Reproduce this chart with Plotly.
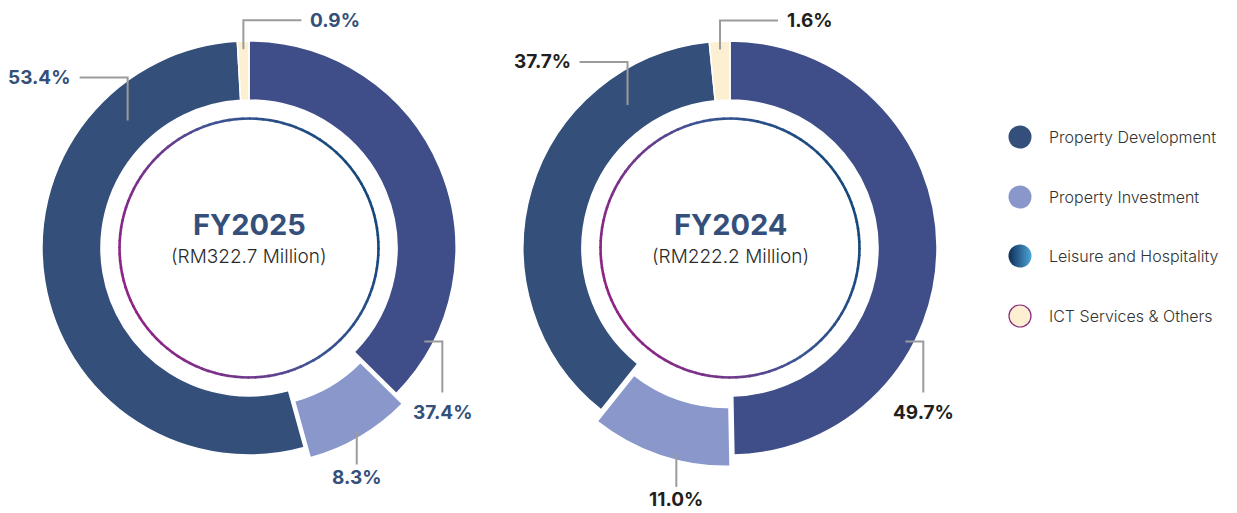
import numpy as np
import plotly.graph_objects as go

# ---------------- data ----------------
segments = ["Leisure and Hospitality", "Property Investment",
            "Property Development", "ICT Services & Others"]
fy2025_share = [37.4, 8.3, 53.4, 0.9]
fy2024_share = [49.7, 11.0, 37.7, 1.6]
years = ["FY2025", "FY2024"]
revenue_text = ["(RM322.7 Million)", "(RM222.2 Million)"]
legend_order = ["Property Development", "Property Investment",
                "Leisure and Hospitality", "ICT Services & Others"]

# ---------------- style ----------------
VIEW_W, VIEW_H = 1237, 513
OX, OY = 8, 8                      # page body margin around the plot div
FIG_W, FIG_H = VIEW_W - OX, VIEW_H - OY
R = 207.0
CY = 248.0
HOLE = 0.715
PULL = [0.0, 0.058, 0.0, 0.0]
seg_colors = {
    "Leisure and Hospitality": "#3f4e89",
    "Property Investment": "#8a97cb",
    "Property Development": "#34507a",
    "ICT Services & Others": "#fdf0d2",
}
FONT = "Inter"
LINE_GREY = "#9b9b9b"

charts = [
    dict(year=years[0], values=fy2025_share, rev=revenue_text[0], cx=249.0,
         label_color="#34507a", fracs=[0.877, 0.5, 0.79, 0.5]),
    dict(year=years[1], values=fy2024_share, rev=revenue_text[1], cx=730.0,
         label_color="#231f20", fracs=[0.66, 0.39, 0.78, 0.5]),
]
# per-slice anchor radius (fraction of R), leader legs, text placement
anchor_rf = [0.96, 0.97, 0.85, 0.96]
legs = [[(18, 0), (0, 51)], [(0, 33)], [(0, -43), (-48, 0)], [(0, -29), (58, 0)]]
text_off = [(0, 20, "center"), (0, 13, "center"), (-7, 0, "right"), (7, 0, "left")]


def hex2rgb(h):
    h = h.lstrip("#")
    return np.array([int(h[i:i + 2], 16) for i in (0, 2, 4)], dtype=float)


def interp(stops, t):
    for (t0, c0), (t1, c1) in zip(stops[:-1], stops[1:]):
        if t <= t1:
            f = 0 if t1 == t0 else (t - t0) / (t1 - t0)
            c = hex2rgb(c0) * (1 - f) + hex2rgb(c1) * f
            return "rgb(%d,%d,%d)" % tuple(np.round(c))
    return stops[-1][1]


ring_stops = [(0.0, "#8e2485"), (0.35, "#6a3c8c"), (0.55, "#3f5596"), (1.0, "#15487c")]

fig = go.Figure()
shapes = []
annotations = []

for ch in charts:
    cx = ch["cx"]
    vals = np.array(ch["values"], dtype=float)
    S = R * (1 + max(PULL))
    fig.add_trace(go.Pie(
        values=vals, labels=segments, sort=False, direction="clockwise",
        rotation=0, hole=HOLE, pull=PULL, textinfo="none",
        hovertemplate="%{label}: %{value}%<extra>" + ch["year"] + "</extra>",
        marker=dict(colors=[seg_colors[s] for s in segments],
                    line=dict(color="white", width=1.5)),
        showlegend=False,
        domain=dict(x=[(cx - OX - S) / FIG_W, (cx - OX + S) / FIG_W],
                    y=[1 - (CY - OY + S) / FIG_H, 1 - (CY - OY - S) / FIG_H]),
    ))

    # leader lines + percentage labels, derived from slice angles
    total = vals.sum()
    starts = np.concatenate([[0], np.cumsum(vals)[:-1]]) / total * 360
    spans = vals / total * 360
    for i in range(len(vals)):
        a = np.radians(starts[i] + ch["fracs"][i] * spans[i])
        mid = np.radians(starts[i] + spans[i] / 2)
        r = R * anchor_rf[i]
        px = cx + r * np.sin(a) + PULL[i] * R * np.sin(mid)
        py = CY - r * np.cos(a) - PULL[i] * R * np.cos(mid)
        path = "M %.2f %.2f" % (px, py)
        for dx, dy in legs[i]:
            px += dx
            py += dy
            path += " L %.2f %.2f" % (px, py)
        shapes.append(dict(type="path", path=path, xref="x", yref="y",
                           line=dict(color=LINE_GREY, width=2), layer="above"))
        tdx, tdy, xa = text_off[i]
        annotations.append(dict(
            x=px + tdx, y=py + tdy, xref="x", yref="y", showarrow=False,
            text="%.1f%%" % vals[i], xanchor=xa, yanchor="middle",
            font=dict(family=FONT, size=19, color=ch["label_color"], weight=700)))

    # decorative gradient inner ring
    rr = 129.5
    n = 120
    for k in range(n):
        ph = np.linspace(2 * np.pi * k / n, 2 * np.pi * (k + 1) / n + 0.01, 4)
        xs = cx + rr * np.sin(ph)
        ys = CY - rr * np.cos(ph)
        phm = 2 * np.pi * (k + 0.5) / n
        u = 0.85 * np.sin(phm) + 0.35 * np.cos(phm)
        t = float(np.clip((u + 0.92) / 1.84, 0, 1))
        fig.add_trace(go.Scatter(x=xs, y=ys, mode="lines",
                                 line=dict(color=interp(ring_stops, t), width=2.6),
                                 hoverinfo="skip", showlegend=False))

    # centre titles
    annotations.append(dict(x=cx, y=224, xref="x", yref="y", showarrow=False,
                            text="<b>%s</b>" % ch["year"], xanchor="center", yanchor="middle",
                            font=dict(family=FONT, size=29, color="#34507a")))
    annotations.append(dict(x=cx, y=256, xref="x", yref="y", showarrow=False,
                            text=ch["rev"], xanchor="center", yanchor="middle",
                            font=dict(family=FONT, size=19, color="#2b2b2b", weight=300)))

# ---------------- custom legend ----------------
leg_y = [137, 197, 256, 316]
for name, ly in zip(legend_order, leg_y):
    if name == "Leisure and Hospitality":
        mk = dict(size=23, color="#0f2c58",
                  gradient=dict(type="horizontal", color="#4ba6d8"), line=dict(width=0))
    elif name == "ICT Services & Others":
        mk = dict(size=22, color=seg_colors[name], line=dict(color="#8b2a80", width=1.2))
    else:
        mk = dict(size=23, color=seg_colors[name], line=dict(width=0))
    fig.add_trace(go.Scatter(x=[1020], y=[ly], mode="markers", marker=mk,
                             hoverinfo="skip", showlegend=False))
    annotations.append(dict(x=1047, y=ly, xref="x", yref="y", showarrow=False,
                            text=name, xanchor="left", yanchor="middle",
                            font=dict(family=FONT, size=16, color="#333333", weight=300)))

fig.update_layout(
    width=FIG_W, height=FIG_H, margin=dict(l=0, r=0, t=0, b=0),
    paper_bgcolor="white", plot_bgcolor="rgba(0,0,0,0)",
    xaxis=dict(range=[OX, OX + FIG_W], visible=False, fixedrange=True, domain=[0, 1]),
    yaxis=dict(range=[OY + FIG_H, OY], visible=False, fixedrange=True, domain=[0, 1]),
    shapes=shapes, annotations=annotations, showlegend=False,
)

fig.write_html("out.html")
